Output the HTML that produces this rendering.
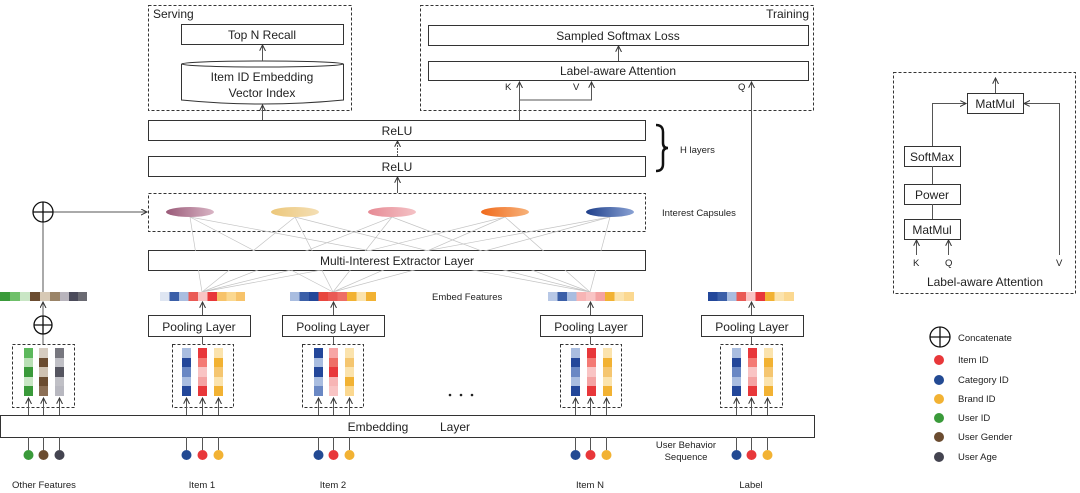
<!DOCTYPE html>
<html><head><meta charset="utf-8"><style>
html,body{margin:0;padding:0;background:#fff;}
svg{display:block;font-family:"Liberation Sans",Arial,sans-serif;}
</style></head><body>
<svg width="1080" height="493" viewBox="0 0 1080 493" xmlns="http://www.w3.org/2000/svg">
<defs>
<marker id="a" markerWidth="8" markerHeight="8" refX="6" refY="3" orient="auto" markerUnits="userSpaceOnUse">
<path d="M0,0 L6,3 L0,6" fill="none" stroke="#333" stroke-width="1"/></marker>
<linearGradient id="e1"><stop offset="0" stop-color="#9a5a78"/><stop offset="1" stop-color="#d9b5c5"/></linearGradient>
<linearGradient id="e2"><stop offset="0" stop-color="#ecc77a"/><stop offset="1" stop-color="#f4dfb5"/></linearGradient>
<linearGradient id="e3"><stop offset="0" stop-color="#e68a94"/><stop offset="1" stop-color="#f4c2c6"/></linearGradient>
<linearGradient id="e4"><stop offset="0" stop-color="#f06a1c"/><stop offset="1" stop-color="#f7b27a"/></linearGradient>
<linearGradient id="e5"><stop offset="0" stop-color="#1e3f8a"/><stop offset="1" stop-color="#8aa2d4"/></linearGradient>
</defs>
<g fill="none" stroke="#333" stroke-width="1">
<rect x="148.5" y="5.5" width="203" height="105" stroke-dasharray="3,2"/>
<rect x="420.5" y="5.5" width="393" height="105" stroke-dasharray="3,2"/>
<rect x="181.5" y="24.5" width="162" height="20"/>
<path d="M181.5,64 L181.5,100 Q262,108 343.5,100 L343.5,64"/>
<ellipse cx="262.5" cy="64" rx="81" ry="3"/>
<rect x="428.5" y="25.5" width="380" height="20"/>
<rect x="428.5" y="61.5" width="380" height="19"/>
<rect x="148.5" y="120.5" width="497" height="20"/>
<rect x="148.5" y="156.5" width="497" height="20"/>
<rect x="148.5" y="193.5" width="497" height="38" stroke-dasharray="3,2"/>
<rect x="148.5" y="250.5" width="497" height="20"/>
<rect x="148.5" y="315.5" width="102" height="21"/>
<rect x="282.5" y="315.5" width="102" height="21"/>
<rect x="540.5" y="315.5" width="102" height="21"/>
<rect x="701.5" y="315.5" width="102" height="21"/>
<g stroke-dasharray="3,2">
<rect x="12.5" y="344.5" width="62" height="63"/>
<rect x="172.5" y="344.5" width="61" height="63"/>
<rect x="302.5" y="344.5" width="61" height="63"/>
<rect x="560.5" y="344.5" width="61" height="63"/>
<rect x="720.5" y="344.5" width="62" height="63"/>
</g>
<rect x="0.5" y="415.5" width="814" height="22"/>
<rect x="893.5" y="72.5" width="182" height="221" stroke-dasharray="3,2"/>
<rect x="967.5" y="93.5" width="56" height="20"/>
<rect x="904.5" y="146.5" width="56" height="20"/>
<rect x="904.5" y="184.5" width="56" height="20"/>
<rect x="904.5" y="219.5" width="56" height="20"/>
</g>
<g fill="none" stroke="#555" stroke-width="1" marker-end="url(#a)">
<path d="M262.5,120 V105"/><path d="M262.5,61 V45"/><path d="M618.5,61 V46"/>
<path d="M519.5,120 V82"/><path d="M519.5,100 H591.5 V82"/><path d="M751.5,291 V82"/>
<path d="M397.5,156 V141" stroke-dasharray="2,1"/><path d="M397.5,193 V177"/>
<path d="M43,212 H147"/><path d="M43,316 V302"/>
<path d="M202.5,315 V302"/><path d="M333.5,315 V302"/><path d="M590.5,315 V302"/><path d="M751.5,315 V302"/>
<path d="M28.5,415 V398"/><path d="M43.5,415 V398"/><path d="M59.5,415 V398"/>
<path d="M186.5,415 V398"/><path d="M202.5,415 V398"/><path d="M218.5,415 V398"/>
<path d="M318.5,415 V398"/><path d="M333.5,415 V398"/><path d="M349.5,415 V398"/>
<path d="M575.5,415 V398"/><path d="M590.5,415 V398"/><path d="M606.5,415 V398"/>
<path d="M736.5,415 V398"/><path d="M751.5,415 V398"/><path d="M767.5,415 V398"/>
<path d="M995.5,93 V78"/><path d="M932.5,146 V103.5 H966"/><path d="M1059.5,255 V103.5 H1024"/>
<path d="M916.5,255 V240"/><path d="M948.5,255 V240"/>
</g>
<g stroke="#555" stroke-width="1">
<path d="M43,292 V222"/><path d="M43,344 V334"/>
<path d="M202.5,344 V337"/><path d="M333.5,344 V337"/><path d="M590.5,344 V337"/><path d="M751.5,344 V337"/>
<path d="M932.5,166 V184"/><path d="M932.5,204 V219"/>
<path d="M28.5,437 V450"/><path d="M43.5,437 V450"/><path d="M59.5,437 V450"/>
<path d="M186.5,437 V450"/><path d="M202.5,437 V450"/><path d="M218.5,437 V450"/>
<path d="M318.5,437 V450"/><path d="M333.5,437 V450"/><path d="M349.5,437 V450"/>
<path d="M575.5,437 V450"/><path d="M590.5,437 V450"/><path d="M606.5,437 V450"/>
<path d="M736.5,437 V450"/><path d="M751.5,437 V450"/><path d="M767.5,437 V450"/>
</g>
<g stroke="#c4c4c4" stroke-width="0.7">
<path d="M202,292L190,217M202,292L295,217M202,292L392,217M202,292L505,217M202,292L610,217"/>
<path d="M333,292L190,217M333,292L295,217M333,292L392,217M333,292L505,217M333,292L610,217"/>
<path d="M590,292L190,217M590,292L295,217M590,292L392,217M590,292L505,217M590,292L610,217"/>
</g>
<rect x="149" y="251" width="496" height="19" fill="#fff"/>
<ellipse cx="190" cy="212" rx="24" ry="5" fill="url(#e1)"/>
<ellipse cx="295" cy="212" rx="24" ry="5" fill="url(#e2)"/>
<ellipse cx="392" cy="212" rx="24" ry="5" fill="url(#e3)"/>
<ellipse cx="505" cy="212" rx="24" ry="5" fill="url(#e4)"/>
<ellipse cx="610" cy="212" rx="24" ry="5" fill="url(#e5)"/>
<g fill="none" stroke="#111" stroke-width="1.3">
<circle cx="43" cy="212" r="10"/><path d="M33,212H53M43,202V222"/>
<circle cx="43" cy="325" r="9"/><path d="M34,325H52M43,316V334"/>
<circle cx="940" cy="337" r="10"/><path d="M930,337H950M940,327V347"/>
</g>
<g>
<rect x="0" y="292" width="10" height="9" fill="#3a9a3a"/><rect x="10" y="292" width="10" height="9" fill="#6fc06a"/><rect x="20" y="292" width="10" height="9" fill="#c9e6c5"/><rect x="30" y="292" width="10" height="9" fill="#6b4c30"/><rect x="40" y="292" width="10" height="9" fill="#d7c9b5"/><rect x="50" y="292" width="10" height="9" fill="#9a8468"/><rect x="60" y="292" width="9" height="9" fill="#b8b4bc"/><rect x="69" y="292" width="9" height="9" fill="#4a4a5a"/><rect x="78" y="292" width="9" height="9" fill="#6a6a72"/>
<rect x="160" y="292" width="9.5" height="9" fill="#dfe6f2"/><rect x="169.5" y="292" width="9.5" height="9" fill="#3b5fa8"/><rect x="179" y="292" width="9.5" height="9" fill="#a9bde0"/><rect x="188.5" y="292" width="9.5" height="9" fill="#ea5a55"/><rect x="198" y="292" width="9.5" height="9" fill="#f9c4c4"/><rect x="207.5" y="292" width="9.5" height="9" fill="#e8373a"/><rect x="217" y="292" width="9.5" height="9" fill="#f7c36a"/><rect x="226.5" y="292" width="9.5" height="9" fill="#fbd890"/><rect x="236" y="292" width="9" height="9" fill="#f7c36a"/>
<rect x="290" y="292" width="9.5" height="9" fill="#a9bde0"/><rect x="299.5" y="292" width="9.5" height="9" fill="#3b5fa8"/><rect x="309" y="292" width="9.5" height="9" fill="#23479a"/><rect x="318.5" y="292" width="9.5" height="9" fill="#e8473f"/><rect x="328" y="292" width="9.5" height="9" fill="#ea5a55"/><rect x="337.5" y="292" width="9.5" height="9" fill="#ee6e66"/><rect x="347" y="292" width="9.5" height="9" fill="#f2b233"/><rect x="356.5" y="292" width="9.5" height="9" fill="#fbe3ad"/><rect x="366" y="292" width="10" height="9" fill="#f2b233"/>
<rect x="548" y="292" width="9.5" height="9" fill="#b8c8e6"/><rect x="557.5" y="292" width="9.5" height="9" fill="#3b5fa8"/><rect x="567" y="292" width="9.5" height="9" fill="#a9bde0"/><rect x="576.5" y="292" width="9.5" height="9" fill="#f7b5b5"/><rect x="586" y="292" width="9.5" height="9" fill="#f9c4c4"/><rect x="595.5" y="292" width="9.5" height="9" fill="#f4a3a3"/><rect x="605" y="292" width="9.5" height="9" fill="#f2b233"/><rect x="614.5" y="292" width="9.5" height="9" fill="#fbe3ad"/><rect x="624" y="292" width="10" height="9" fill="#fbd890"/>
<rect x="708" y="292" width="9.5" height="9" fill="#23479a"/><rect x="717.5" y="292" width="9.5" height="9" fill="#3b5fa8"/><rect x="727" y="292" width="9.5" height="9" fill="#a9bde0"/><rect x="736.5" y="292" width="9.5" height="9" fill="#ea5a55"/><rect x="746" y="292" width="9.5" height="9" fill="#f9c4c4"/><rect x="755.5" y="292" width="9.5" height="9" fill="#e8373a"/><rect x="765" y="292" width="9.5" height="9" fill="#f2b233"/><rect x="774.5" y="292" width="9.5" height="9" fill="#fbe3ad"/><rect x="784" y="292" width="10" height="9" fill="#fbd890"/>
</g>
<g>
<rect x="24" y="348" width="9" height="10" fill="#5cb85c"/><rect x="24" y="358" width="9" height="9" fill="#b9e0b5"/><rect x="24" y="367" width="9" height="10" fill="#3a9a3a"/><rect x="24" y="377" width="9" height="9" fill="#c8e6c4"/><rect x="24" y="386" width="9" height="10" fill="#3a9a3a"/>
<rect x="39" y="348" width="9" height="10" fill="#d6ccc0"/><rect x="39" y="358" width="9" height="9" fill="#6b4c30"/><rect x="39" y="367" width="9" height="10" fill="#cfc2b2"/><rect x="39" y="377" width="9" height="9" fill="#6b4c30"/><rect x="39" y="386" width="9" height="10" fill="#8c6f55"/>
<rect x="55" y="348" width="9" height="10" fill="#77777f"/><rect x="55" y="358" width="9" height="9" fill="#c0c0c6"/><rect x="55" y="367" width="9" height="10" fill="#555560"/><rect x="55" y="377" width="9" height="9" fill="#c0c0c6"/><rect x="55" y="386" width="9" height="10" fill="#b8b8c0"/>
</g>
<g id="bluecols">
<rect x="182" y="348" width="9" height="10" fill="#a9bde0"/><rect x="182" y="358" width="9" height="9" fill="#23479a"/><rect x="182" y="367" width="9" height="10" fill="#6a88c4"/><rect x="182" y="377" width="9" height="9" fill="#a9bde0"/><rect x="182" y="386" width="9" height="10" fill="#23479a"/>
<rect x="198" y="348" width="9" height="10" fill="#e8373a"/><rect x="198" y="358" width="9" height="9" fill="#f47a74"/><rect x="198" y="367" width="9" height="10" fill="#f9c4c4"/><rect x="198" y="377" width="9" height="9" fill="#f4a3a3"/><rect x="198" y="386" width="9" height="10" fill="#e8373a"/>
<rect x="214" y="348" width="9" height="10" fill="#fbe3ad"/><rect x="214" y="358" width="9" height="9" fill="#f2b233"/><rect x="214" y="367" width="9" height="10" fill="#f5c670"/><rect x="214" y="377" width="9" height="9" fill="#fbe3ad"/><rect x="214" y="386" width="9" height="10" fill="#f2b233"/>
</g>
<g>
<rect x="314" y="348" width="9" height="10" fill="#23479a"/><rect x="314" y="358" width="9" height="9" fill="#a9bde0"/><rect x="314" y="367" width="9" height="10" fill="#23479a"/><rect x="314" y="377" width="9" height="9" fill="#a9bde0"/><rect x="314" y="386" width="9" height="10" fill="#6a88c4"/>
<rect x="329" y="348" width="9" height="10" fill="#f7a5a5"/><rect x="329" y="358" width="9" height="9" fill="#ee6e66"/><rect x="329" y="367" width="9" height="10" fill="#e8373a"/><rect x="329" y="377" width="9" height="9" fill="#f7b5b5"/><rect x="329" y="386" width="9" height="10" fill="#f9c4c4"/>
<rect x="345" y="348" width="9" height="10" fill="#fbe3ad"/><rect x="345" y="358" width="9" height="9" fill="#f5c670"/><rect x="345" y="367" width="9" height="10" fill="#fbe3ad"/><rect x="345" y="377" width="9" height="9" fill="#f2b233"/><rect x="345" y="386" width="9" height="10" fill="#fbd890"/>
</g>
<use href="#bluecols" x="389"/>
<use href="#bluecols" x="550"/>
<g>
<circle cx="28.5" cy="455" r="5" fill="#3a9a3a"/><circle cx="43.5" cy="455" r="5" fill="#6b4c30"/><circle cx="59.5" cy="455" r="5" fill="#444450"/>
<circle cx="186.5" cy="455" r="5" fill="#234a93"/><circle cx="202.5" cy="455" r="5" fill="#e8373a"/><circle cx="218.5" cy="455" r="5" fill="#f2b233"/>
<circle cx="318.5" cy="455" r="5" fill="#234a93"/><circle cx="333.5" cy="455" r="5" fill="#e8373a"/><circle cx="349.5" cy="455" r="5" fill="#f2b233"/>
<circle cx="575.5" cy="455" r="5" fill="#234a93"/><circle cx="590.5" cy="455" r="5" fill="#e8373a"/><circle cx="606.5" cy="455" r="5" fill="#f2b233"/>
<circle cx="736.5" cy="455" r="5" fill="#234a93"/><circle cx="751.5" cy="455" r="5" fill="#e8373a"/><circle cx="767.5" cy="455" r="5" fill="#f2b233"/>
<circle cx="939" cy="360" r="5" fill="#e8373a"/><circle cx="939" cy="380" r="5" fill="#234a93"/><circle cx="939" cy="399" r="5" fill="#f2b233"/><circle cx="939" cy="418" r="5" fill="#3a9a3a"/><circle cx="939" cy="437" r="5" fill="#6b4c30"/><circle cx="939" cy="457" r="5" fill="#444450"/>
<circle cx="450" cy="395" r="1.3" fill="#222"/><circle cx="461" cy="395" r="1.3" fill="#222"/><circle cx="472" cy="395" r="1.3" fill="#222"/>
</g>
<path d="M656,125 Q663,125 663,132 L663,143 Q663,148 668,148 Q663,148 663,153 L663,164 Q663,171 656,171" fill="none" stroke="#111" stroke-width="2.5"/>
<g fill="#222" font-size="12" text-anchor="middle">
<text x="153" y="18" text-anchor="start">Serving</text>
<text x="809" y="18" text-anchor="end">Training</text>
<text x="262" y="39">Top N Recall</text>
<text x="262" y="81">Item ID Embedding</text>
<text x="262" y="97">Vector Index</text>
<text x="618" y="40">Sampled Softmax Loss</text>
<text x="618" y="75">Label-aware Attention</text>
<text x="397" y="135">ReLU</text>
<text x="397" y="171">ReLU</text>
<text x="397" y="265">Multi-Interest Extractor Layer</text>
<text x="199" y="331">Pooling Layer</text>
<text x="333" y="331">Pooling Layer</text>
<text x="591" y="331">Pooling Layer</text>
<text x="752" y="331">Pooling Layer</text>
<text x="378" y="431">Embedding</text>
<text x="455" y="431">Layer</text>
<text x="995" y="108">MatMul</text>
<text x="932" y="161">SoftMax</text>
<text x="932" y="199">Power</text>
<text x="932" y="234">MatMul</text>
<text x="985" y="286">Label-aware Attention</text>
</g>
<g fill="#222" font-size="9.5">
<text x="505" y="90">K</text><text x="573" y="90">V</text><text x="738" y="90">Q</text>
<text x="680" y="153">H layers</text>
<text x="662" y="216">Interest Capsules</text>
<text x="432" y="300">Embed Features</text>
<text x="686" y="448" text-anchor="middle">User Behavior</text>
<text x="686" y="460" text-anchor="middle">Sequence</text>
<text x="44" y="488" text-anchor="middle">Other Features</text>
<text x="202" y="488" text-anchor="middle">Item 1</text>
<text x="333" y="488" text-anchor="middle">Item 2</text>
<text x="590" y="488" text-anchor="middle">Item N</text>
<text x="751" y="488" text-anchor="middle">Label</text>
<text x="913" y="266">K</text><text x="945" y="266">Q</text><text x="1056" y="266">V</text>
<text x="958" y="341">Concatenate</text>
<text x="958" y="363">Item ID</text>
<text x="958" y="383">Category ID</text>
<text x="958" y="402">Brand ID</text>
<text x="958" y="421">User ID</text>
<text x="958" y="440">User Gender</text>
<text x="958" y="460">User Age</text>
</g>
</svg>
</body></html>
